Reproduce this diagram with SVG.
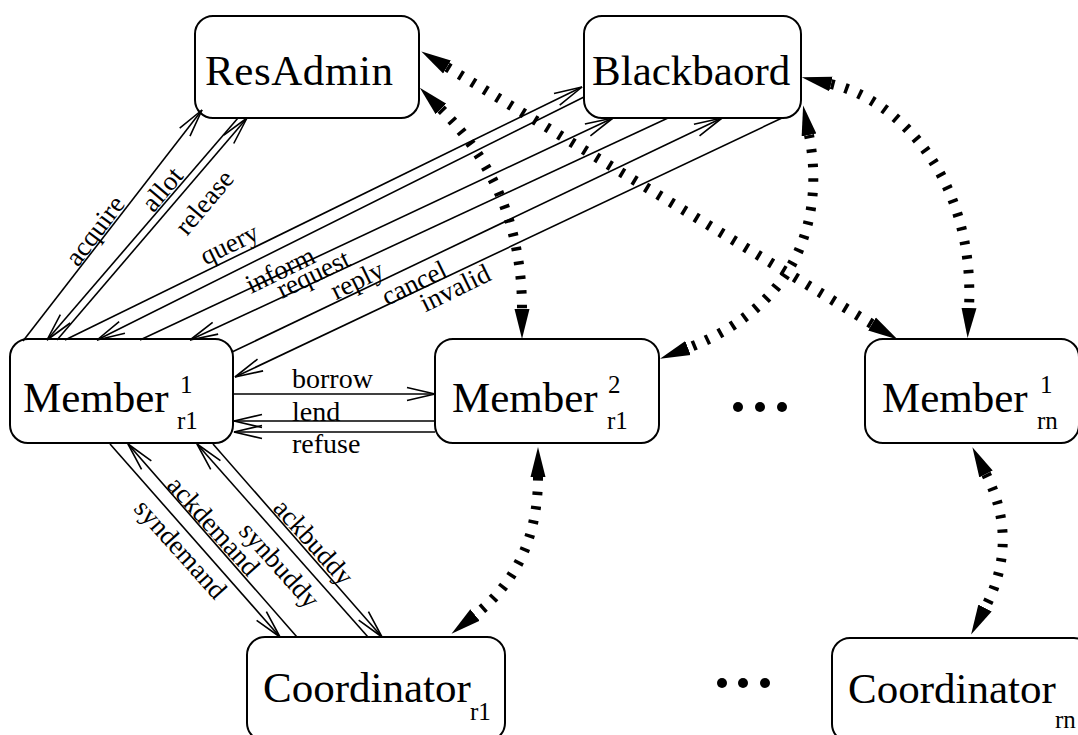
<svg xmlns="http://www.w3.org/2000/svg" width="1078" height="735" viewBox="0 0 1078 735">
<style>
.box{fill:#fff;stroke:#000;stroke-width:2}
.big{font-family:"Liberation Serif","Times New Roman",serif;font-size:43px;fill:#000}
.sub{font-size:25px}
.lbl{font-family:"Liberation Serif","Times New Roman",serif;font-size:28px;fill:#000}
.rl{font-family:"Liberation Serif","Times New Roman",serif;font-size:27px;fill:#000;text-anchor:middle}
.thin{fill:none;stroke:#000;stroke-width:1.6;marker-end:url(#oa)}
.dot{fill:none;stroke:#000;stroke-width:10;stroke-dasharray:3.5 11;marker-start:url(#fa);marker-end:url(#fa)}
</style>
<defs>
<marker id="oa" viewBox="0 0 30 16" refX="29" refY="8" markerWidth="30" markerHeight="16" markerUnits="userSpaceOnUse" orient="auto"><path d="M1,1.5 L29,8 L1,14.5" fill="none" stroke="#000" stroke-width="1.6"/></marker>
<marker id="fa" viewBox="0 0 30 16" refX="0" refY="8" markerWidth="30" markerHeight="16" markerUnits="userSpaceOnUse" orient="auto-start-reverse"><path d="M0,0.5 L30,8 L0,15.5 Z" fill="#000"/></marker>
</defs>
<rect width="1078" height="735" fill="#fff"/>

<g id="resadmin"><rect class="box" x="195" y="16" width="224" height="102" rx="18"/><text class="big" x="205" y="85" textLength="188">ResAdmin</text></g>
<g id="blackbaord"><rect class="box" x="584" y="16" width="217" height="102" rx="18"/><text class="big" x="592" y="85">Blackbaord</text></g>
<g id="member1_r1"><rect class="box" x="10" y="339" width="223" height="104" rx="18"/><text class="big" x="23" y="412">Member<tspan class="sub" x="180" y="393">1</tspan><tspan class="sub" x="177" y="429">r1</tspan></text></g>
<g id="member2_r1"><rect class="box" x="435" y="339" width="224" height="104" rx="18"/><text class="big" x="452" y="412">Member<tspan class="sub" x="608" y="393">2</tspan><tspan class="sub" x="607" y="429">r1</tspan></text></g>
<g id="member1_rn"><rect class="box" x="865" y="339" width="214" height="104" rx="18"/><text class="big" x="882" y="412">Member<tspan class="sub" x="1040" y="393">1</tspan><tspan class="sub" x="1037" y="429">rn</tspan></text></g>
<g id="coordinator_r1"><rect class="box" x="247" y="637" width="258" height="104" rx="18"/><text class="big" x="263" y="702">Coordinator<tspan class="sub" x="470" y="720">r1</tspan></text></g>
<g id="coordinator_rn"><rect class="box" x="832" y="638" width="260" height="104" rx="18"/><text class="big" x="848" y="703">Coordinator<tspan class="sub" x="1055" y="728">rn</tspan></text></g>
<g id="ellipses">
<circle cx="738" cy="407" r="5"/><circle cx="760" cy="407" r="5"/><circle cx="782" cy="407" r="5"/>
<circle cx="722" cy="683" r="5"/><circle cx="743" cy="683" r="5"/><circle cx="765" cy="683" r="5"/>
</g>

<g id="connectors">
<line class="thin" x1="23" y1="341" x2="202" y2="110"/>
<line class="thin" x1="238" y1="118" x2="47" y2="340"/>
<line class="thin" x1="57" y1="340" x2="247" y2="118"/>
<line class="thin" x1="65" y1="340" x2="582" y2="87"/>
<line class="thin" x1="584" y1="97" x2="97" y2="340"/>
<line class="thin" x1="140" y1="340" x2="613" y2="118"/>
<line class="thin" x1="668" y1="118" x2="190" y2="340"/>
<line class="thin" x1="232" y1="352" x2="722" y2="118"/>
<line class="thin" x1="782" y1="118" x2="235" y2="377"/>
<line class="thin" x1="233" y1="394" x2="435" y2="394"/>
<line class="thin" x1="435" y1="421" x2="234" y2="421"/>
<line class="thin" x1="435" y1="432" x2="234" y2="432"/>
<line class="thin" x1="110" y1="444" x2="280" y2="637"/>
<line class="thin" x1="297" y1="637" x2="128" y2="444"/>
<line class="thin" x1="368" y1="637" x2="197" y2="444"/>
<line class="thin" x1="213" y1="444" x2="382" y2="637"/>

<path class="dot" d="M441,109 Q522,190 522,309"/>
<path class="dot" d="M447,67 L872,324"/>
<path class="dot" d="M831,84 C900,100 975,180 969,308"/>
<path class="dot" d="M809,135 C822,200 812,300 688,348"/>
<path class="dot" d="M538,477 Q538,565 475,615"/>
<path class="dot" d="M986,474 Q1020,541 985,608"/>

<text class="rl" transform="translate(102,236) rotate(-53)">acquire</text>
<text class="rl" transform="translate(169,195) rotate(-50)">allot</text>
<text class="rl" transform="translate(211,208) rotate(-50)">release</text>
<text class="rl" transform="translate(233,252) rotate(-26)">query</text>
<text class="rl" transform="translate(284,278) rotate(-26)">inform</text>
<text class="rl" transform="translate(317,282) rotate(-26)">request</text>
<text class="rl" transform="translate(361,288) rotate(-26)">reply</text>
<text class="rl" transform="translate(418,291) rotate(-26)">cancel</text>
<text class="rl" transform="translate(459,296) rotate(-26)">invalid</text>
<text class="lbl" x="292" y="388">borrow</text>
<text class="lbl" x="292" y="421">lend</text>
<text class="lbl" x="292" y="453">refuse</text>
<text class="rl" transform="translate(174,555) rotate(48)">syndemand</text>
<text class="rl" transform="translate(207,532) rotate(48)">ackdemand</text>
<text class="rl" transform="translate(273,571) rotate(48)">synbuddy</text>
<text class="rl" transform="translate(307,548) rotate(48)">ackbuddy</text>
</g>
</svg>
